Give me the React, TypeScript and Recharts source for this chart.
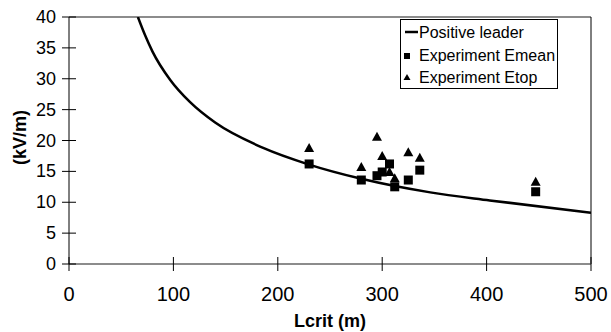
import React from "react";
import {
  ComposedChart,
  Line,
  Scatter,
  XAxis,
  YAxis,
  ReferenceLine,
} from "recharts";

const FONT = '"Liberation Sans", Arial, Helvetica, sans-serif';

// Positive leader curve
const curveL = [66, 73, 80, 97, 116, 140, 186, 230, 280, 346, 403, 500];
const curveE = [40, 37.0, 34.4, 29.8, 26.2, 22.9, 18.8, 16.1, 13.8, 11.6, 10.3, 8.3];

// Experiments
const expL = [230, 280, 295, 300, 307, 312, 325, 336, 447];
const emean = [16.2, 13.6, 14.3, 14.9, 16.2, 12.5, 13.6, 15.2, 11.7];
const etopL = [230, 280, 295, 300, 307, 312, 325, 336, 447];
const etop = [18.8, 15.7, 20.6, 17.5, 14.9, 13.9, 18.1, 17.2, 13.3];

const xTicks = [0, 100, 200, 300, 400, 500];
const yTicks = [0, 5, 10, 15, 20, 25, 30, 35, 40];
const legendNames = ["Positive leader", "Experiment Emean", "Experiment Etop"];

const curveData = curveL.map((x, i) => ({ x, y: curveE[i] }));
const emeanData = expL.map((x, i) => ({ x, y: emean[i] }));
const etopData = etopL.map((x, i) => ({ x, y: etop[i] }));

const YTick = (props: any) => {
  const { x, y, payload } = props;
  return (
    <g>
      <line x1={x - 7} x2={x + 7} y1={y} y2={y} stroke="#000" strokeWidth={1} />
      <text x={x - 13} y={y + 6} textAnchor="end" fontSize={18} fontFamily={FONT} fill="#000">
        {payload.value}
      </text>
    </g>
  );
};

const XTick = (props: any) => {
  const { x, y, payload } = props;
  return (
    <g>
      <line x1={x} x2={x} y1={y - 7} y2={y + 7} stroke="#000" strokeWidth={1} />
      <text x={x} y={y + 37} textAnchor="middle" fontSize={20} fontFamily={FONT} fill="#000">
        {payload.value}
      </text>
    </g>
  );
};

const YLabel = (props: any) => {
  const vb = props.viewBox || { x: 0, y: 17, width: 69, height: 247 };
  const cx = 20;
  const cy = vb.y + vb.height / 2 - 3;
  return (
    <text
      transform={`translate(${cx},${cy}) rotate(-90)`}
      textAnchor="middle"
      dominantBaseline="central"
      fontFamily={FONT}
      fontSize={18}
      fontWeight="bold"
      fill="#000"
    >
      (kV/m)
    </text>
  );
};

const Square = (props: any) => {
  const { cx, cy } = props;
  return <rect x={cx - 4.5} y={cy - 4.5} width={9} height={9} fill="#000" />;
};

const Tri = (props: any) => {
  const { cx, cy } = props;
  return (
    <polygon
      points={`${cx},${cy - 5} ${cx + 5},${cy + 4} ${cx - 5},${cy + 4}`}
      fill="#000"
    />
  );
};

const LegendBox = () => (
  <div
    style={{
      position: "absolute",
      left: 400,
      top: 19,
      width: 158,
      height: 70,
      border: "1px solid #000",
      background: "#fff",
      fontFamily: FONT,
      fontSize: 16,
      color: "#000",
      boxSizing: "border-box",
    }}
  >
    <svg width={20} height={68} style={{ position: "absolute", left: 0, top: 0 }}>
      <line x1={4} x2={17} y1={12} y2={12} stroke="#000" strokeWidth={2.5} />
      <rect x={3} y={33} width={6} height={6} fill="#000" />
      <polygon points="6,54 9.5,60 2.5,60" fill="#000" />
    </svg>
    <div style={{ position: "absolute", left: 18, top: 2, lineHeight: "22.5px", whiteSpace: "nowrap" }}>
      {legendNames.map((n) => (
        <div key={n}>{n}</div>
      ))}
    </div>
  </div>
);

export default function App() {
  return (
    <div
      style={{
        position: "absolute",
        left: 0,
        top: 0,
        width: 611,
        height: 332,
        background: "#fff",
      }}
    >
      <ComposedChart
        width={611}
        height={332}
        margin={{ top: 17, right: 20, bottom: 0, left: 0 }}
      >
        <XAxis
          dataKey="x"
          type="number"
          domain={[0, 500]}
          ticks={xTicks}
          interval={0}
          allowDataOverflow
          height={68}
          tickSize={0}
          tickMargin={0}
          tick={<XTick />}
          axisLine={{ stroke: "#666", strokeWidth: 1.5 }}
          tickLine={false}
          label={{
            value: "Lcrit (m)",
            position: "insideBottom",
            offset: 5,
            style: { fontFamily: FONT, fontSize: 18, fontWeight: "bold", fill: "#000" },
          }}
        />
        <YAxis
          dataKey="y"
          type="number"
          domain={[0, 40]}
          ticks={yTicks}
          interval={0}
          allowDataOverflow
          width={69}
          tickSize={0}
          tickMargin={0}
          tick={<YTick />}
          axisLine={{ stroke: "#000", strokeWidth: 1 }}
          tickLine={false}
          label={<YLabel />}
        />
        <ReferenceLine y={40} stroke="#666" strokeWidth={1.5} />
        <ReferenceLine x={500} stroke="#000" strokeWidth={1} />
        <Line
          data={curveData}
          dataKey="y"
          type="monotone"
          stroke="#000"
          strokeWidth={2.5}
          dot={false}
          isAnimationActive={false}
        />
        <Scatter data={emeanData} dataKey="y" shape={<Square />} isAnimationActive={false} />
        <Scatter data={etopData} dataKey="y" shape={<Tri />} isAnimationActive={false} />
      </ComposedChart>
      <LegendBox />
    </div>
  );
}
